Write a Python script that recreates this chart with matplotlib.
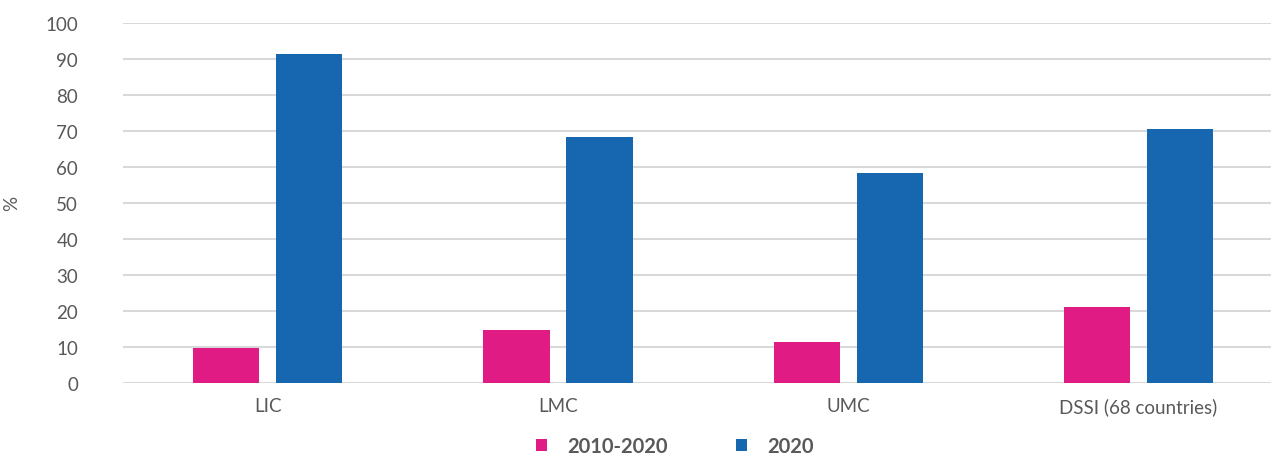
import matplotlib.pyplot as plt
import numpy as np

categories = ["LIC", "LMC", "UMC", "DSSI (68 countries)"]
share_2010_2020 = [9.8, 14.8, 11.5, 21.2]
share_2020 = [91.2, 68.2, 58.2, 70.6]
series_labels = ["2010-2020", "2020"]

plt.rcParams["font.family"] = ["Lato", "DejaVu Sans"]
grey = "#595959"
pink = "#E01B84"
blue = "#1667B0"

fig = plt.figure(figsize=(12.71, 4.56), dpi=100)
ax = fig.add_axes([0.0965, 0.158, 0.9135, 0.79])

x = np.arange(len(categories))
w = 0.228
ax.bar(x - 0.143, share_2010_2020, w, color=pink, label=series_labels[0], zorder=3)
ax.bar(x + 0.143, share_2020, w, color=blue, label=series_labels[1], zorder=3)

ax.set_xlim(-0.5, 3.5)
ax.set_ylim(0, 100)
ax.set_yticks(range(0, 101, 10))
ax.set_xticks(x)
ax.set_xticklabels(categories)
ax.yaxis.grid(True, color="#d9d9d9", linewidth=1.5, zorder=0)
ax.set_axisbelow(True)
for s in ax.spines.values():
    s.set_visible(False)
ax.tick_params(length=0, labelsize=13.5, colors=grey)
ax.tick_params(axis="y", pad=32)
ax.tick_params(axis="x", pad=10)
ax.set_ylabel("%", color=grey, fontsize=13.5)
ax.yaxis.set_label_coords(-0.088, 0.5)

leg = fig.legend(loc="center", bbox_to_anchor=(0.531, 0.02), ncol=2, frameon=False,
                 handlelength=0.55, handleheight=0.55, columnspacing=3.4, handletextpad=1.0,
                 prop={"weight": "bold", "size": 14.5})
for t in leg.get_texts():
    t.set_color(grey)

fig.savefig("out.png", dpi=100)
